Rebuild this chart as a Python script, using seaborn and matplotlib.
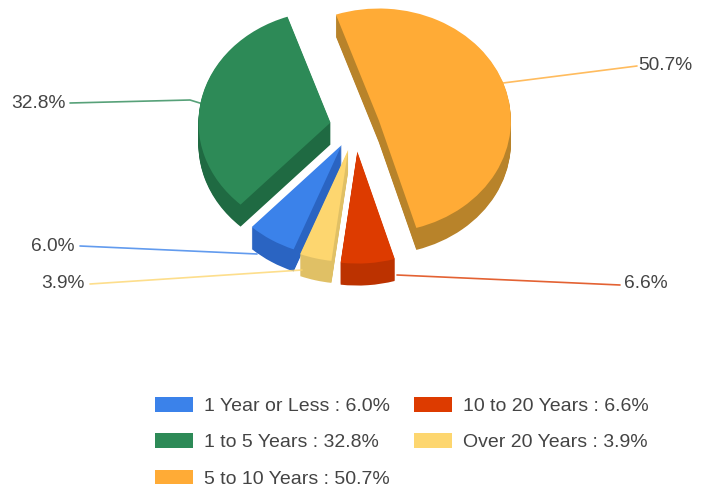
"""3D-looking exploded pie of tenure shares, built from stacked seaborn-coloured pies."""
import matplotlib
matplotlib.use("Agg")
import matplotlib.pyplot as plt
from matplotlib.lines import Line2D
from matplotlib.patches import Patch
import seaborn as sns

categories = ["5 to 10 Years", "10 to 20 Years", "Over 20 Years", "1 Year or Less", "1 to 5 Years"]
shares = [50.7, 6.6, 3.9, 6.0, 32.8]
legend_order = ["1 Year or Less", "1 to 5 Years", "5 to 10 Years", "10 to 20 Years", "Over 20 Years"]
explode = [0.19, 0.22, 0.21, 0.19, 0.19]
top_colors = ["#FFAB36", "#DD3B00", "#FDD66F", "#3B82EA", "#2D8A57"]
side_colors = ["#B8832A", "#BC3200", "#E0C065", "#2A64C2", "#1F6A42"]

W, H = 710, 487
CX, CY = 355, 127    # pie centre, pixels
RX, RY = 132, 112    # top face radii, pixels
DEPTH = 22           # wall height, pixels
START = 109

# value label text position, then leader line points, in pixels
leaders = {
    "5 to 10 Years": ((638, 65, "left"), [(503, 83), (637, 66)]),
    "1 to 5 Years": ((66, 103, "right"), [(70, 103), (190, 100), (203, 104)]),
    "1 Year or Less": ((75, 246, "right"), [(80, 246), (257, 254)]),
    "Over 20 Years": ((85, 283, "right"), [(90, 284), (302, 270)]),
    "10 to 20 Years": ((624, 283, "left"), [(397, 275), (620, 285)]),
}


def fig_xy(x, y):
    return x / W, 1 - y / H


def main():
    sns.set_theme(style="white")
    plt.rcParams["font.family"] = ["Liberation Sans", "DejaVu Sans"]
    top = sns.color_palette(top_colors)
    side = sns.color_palette(side_colors)
    line_colors = dict(zip(categories, top_colors))

    fig = plt.figure(figsize=(W / 100, H / 100), dpi=100)
    ax = fig.add_axes([0, 0, 1, 1])

    # walls first, from the bottom layer up, then the top face
    for d in range(DEPTH, 0, -1):
        ax.pie(shares, explode=explode, colors=side, startangle=START, counterclock=False,
               center=(0, -d / RY), wedgeprops={"linewidth": 0})
    ax.pie(shares, explode=explode, colors=top, startangle=START, counterclock=False,
           wedgeprops={"linewidth": 0})
    ax.set_aspect("auto")
    ax.set_xlim(-CX / RX, (W - CX) / RX)
    ax.set_ylim((CY - H) / RY, CY / RY)

    for name, share in zip(categories, shares):
        (tx, ty, ha), pts = leaders[name]
        xs, ys = zip(*[fig_xy(*p) for p in pts])
        fig.add_artist(Line2D(xs, ys, transform=fig.transFigure, color=line_colors[name],
                              lw=1.2, alpha=0.8))
        x, y = fig_xy(tx, ty)
        fig.text(x, y, f"{share:.1f}%", ha=ha, va="center", fontsize=13.8, color="#444444")

    share_of = dict(zip(categories, shares))
    color_of = dict(zip(categories, top_colors))
    handles = [Patch(color=color_of[n], lw=0) for n in legend_order]
    labels = [f"{n} : {share_of[n]:.1f}%" for n in legend_order]
    fig.legend(handles, labels, ncol=2, loc="upper left", bbox_to_anchor=fig_xy(155, 397),
               frameon=False, fontsize=14, labelcolor="#444444", borderpad=0, borderaxespad=0,
               handlelength=1.97, handleheight=0.8, handletextpad=0.56, columnspacing=1.2,
               labelspacing=0.93)

    fig.savefig("out.png", dpi=100)
    plt.close(fig)


if __name__ == "__main__":
    main()
